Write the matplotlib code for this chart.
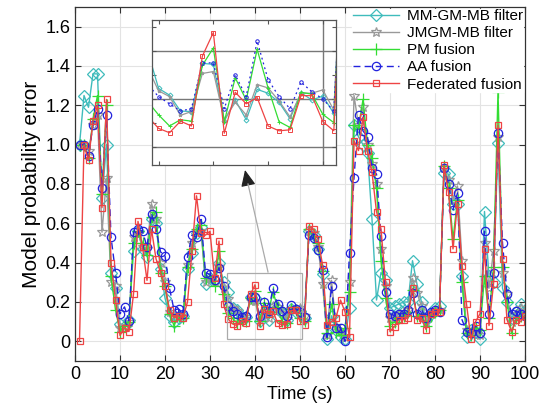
import matplotlib
matplotlib.use("Agg")
import matplotlib.pyplot as plt
import matplotlib.patches as mpatches
import numpy as np

plt.rcParams['font.family'] = ['Liberation Sans', 'DejaVu Sans']

time = list(range(1, 101))

mm_gm_mb = [1.0, 1.25, 1.19, 1.36, 1.36, 0.73, 1.0, 0.35, 0.27, 0.09,
            0.08, 0.11, 0.46, 0.56, 0.47, 0.43, 0.62, 0.60, 0.37, 0.22,
            0.13, 0.10, 0.12, 0.13, 0.37, 0.45, 0.55, 0.58, 0.29, 0.32,
            0.31, 0.40, 0.30, 0.25, 0.172, 0.158, 0.125, 0.124, 0.224, 0.222,
            0.104, 0.148, 0.107, 0.170, 0.162, 0.143, 0.109, 0.163, 0.148, 0.156,
            0.120, 0.56, 0.54, 0.47, 0.34, 0.01, 0.13, 0.06, 0.02, 0.01,
            0.17, 1.10, 1.04, 1.0, 0.96, 0.62, 0.21, 0.35, 0.31, 0.17,
            0.18, 0.19, 0.20, 0.20, 0.41, 0.29, 0.20, 0.11, 0.14, 0.17,
            0.18, 0.855, 0.85, 0.70, 0.70, 0.33, 0.02, 0.06, 0.05, 0.01,
            0.66, 0.33, 0.30, 1.01, 0.27, 0.20, 0.12, 0.15, 0.19, 0.16]

jmgm_mb = [1.0, 1.0, 0.97, 1.10, 1.15, 0.555, 0.83, 0.30, 0.28, 0.07,
           0.08, 0.10, 0.53, 0.55, 0.48, 0.47, 0.70, 0.62, 0.40, 0.30,
           0.15, 0.12, 0.14, 0.13, 0.39, 0.50, 0.56, 0.56, 0.30, 0.32,
           0.30, 0.38, 0.27, 0.215, 0.167, 0.155, 0.116, 0.124, 0.203, 0.207,
           0.107, 0.143, 0.117, 0.180, 0.173, 0.146, 0.113, 0.162, 0.162, 0.169,
           0.127, 0.56, 0.55, 0.48, 0.29, 0.03, 0.31, 0.08, 0.05, 0.02,
           0.30, 1.25, 1.10, 1.19, 1.0, 0.90, 0.80, 0.47, 0.28, 0.12,
           0.13, 0.14, 0.15, 0.16, 0.32, 0.245, 0.18, 0.10, 0.14, 0.16,
           0.16, 0.88, 0.82, 0.72, 0.79, 0.41, 0.06, 0.05, 0.06, 0.03,
           0.50, 0.27, 0.46, 1.04, 0.35, 0.24, 0.10, 0.14, 0.17, 0.15]

pm_fusion = [1.0, 1.0, 0.93, 1.13, 1.25, 0.75, 1.20, 0.33, 0.16, 0.05,
             0.08, 0.10, 0.50, 0.56, 0.50, 0.44, 0.63, 0.66, 0.35, 0.28,
             0.14, 0.08, 0.13, 0.12, 0.38, 0.47, 0.57, 0.59, 0.32, 0.33,
             0.28, 0.46, 0.24, 0.145, 0.117, 0.094, 0.107, 0.104, 0.220, 0.256,
             0.103, 0.194, 0.148, 0.253, 0.173, 0.103, 0.091, 0.164, 0.160, 0.118,
             0.101, 0.57, 0.53, 0.50, 0.36, 0.04, 0.19, 0.05, 0.03, 0.07,
             0.25, 1.10, 1.08, 1.23, 1.0, 0.93, 0.78, 0.41, 0.22, 0.08,
             0.10, 0.12, 0.13, 0.15, 0.26, 0.13, 0.14, 0.08, 0.13, 0.15,
             0.16, 0.89, 0.78, 0.52, 0.72, 0.30, 0.04, 0.03, 0.07, 0.06,
             0.33, 0.12, 0.38, 1.27, 0.38, 0.20, 0.04, 0.12, 0.13, 0.12]

aa_fusion = [1.0, 1.0, 0.94, 1.10, 1.18, 0.78, 1.15, 0.53, 0.35, 0.14,
             0.175, 0.105, 0.555, 0.57, 0.56, 0.48, 0.65, 0.57, 0.455, 0.435,
             0.27, 0.16, 0.165, 0.14, 0.43, 0.54, 0.53, 0.62, 0.35, 0.34,
             0.31, 0.375, 0.28, 0.18, 0.155, 0.14, 0.125, 0.13, 0.225, 0.225,
             0.13, 0.20, 0.155, 0.27, 0.19, 0.155, 0.13, 0.185, 0.165, 0.15,
             0.125, 0.54, 0.525, 0.465, 0.365, 0.02, 0.28, 0.07, 0.07, 0.0,
             0.45, 0.83, 1.15, 1.07, 1.04, 0.88, 0.85, 0.535, 0.25, 0.14,
             0.13, 0.14, 0.14, 0.16, 0.245, 0.14, 0.16, 0.12, 0.15, 0.16,
             0.15, 0.88, 0.80, 0.67, 0.755, 0.11, 0.05, 0.04, 0.08, 0.04,
             0.56, 0.14, 0.35, 1.06, 0.50, 0.24, 0.14, 0.155, 0.14, 0.13]

federated = [0.0, 1.0, 0.92, 1.12, 1.20, 0.68, 1.23, 0.40, 0.21, 0.03,
             0.07, 0.05, 0.24, 0.61, 0.48, 0.31, 0.57, 0.42, 0.35, 0.28,
             0.16, 0.12, 0.13, 0.12, 0.20, 0.46, 0.74, 0.55, 0.54, 0.56,
             0.32, 0.51, 0.19, 0.114, 0.089, 0.080, 0.104, 0.094, 0.239, 0.288,
             0.079, 0.164, 0.140, 0.153, 0.094, 0.084, 0.086, 0.157, 0.157, 0.103,
             0.084, 0.585, 0.57, 0.52, 0.39, 0.085, 0.10, 0.12, 0.21, 0.15,
             0.02, 1.02, 0.97, 1.14, 0.97, 0.86, 0.66, 0.57, 0.30, 0.05,
             0.075, 0.11, 0.11, 0.12, 0.27, 0.11, 0.12, 0.06, 0.14, 0.15,
             0.15, 0.895, 0.757, 0.47, 0.70, 0.385, 0.19, 0.01, 0.10, 0.14,
             0.47, 0.08, 0.29, 1.10, 0.42, 0.11, 0.05, 0.11, 0.10, 0.13]

labels = ["MM-GM-MB filter", "JMGM-MB filter", "PM fusion", "AA fusion", "Federated fusion"]
series = [mm_gm_mb, jmgm_mb, pm_fusion, aa_fusion, federated]
colors = ["#3fbcbc", "#999999", "#33dd33", "#2222dd", "#ee4444"]
markers = ["D", "*", "+", "o", "s"]
msizes = [6.5, 7, 8, 6, 5]
styles = ["-", "-", "-", (0, (5, 3)), "-"]

x_ticks = list(range(0, 101, 10))
y_ticks = [0, 0.2, 0.4, 0.6, 0.8, 1.0, 1.2, 1.4, 1.6]
y_tick_labels = ["0", "0.2", "0.4", "0.6", "0.8", "1.0", "1.2", "1.4", "1.6"]

W, H = 550, 412
fig = plt.figure(figsize=(5.5, 4.12), dpi=100)
ax = fig.add_axes([75 / W, (H - 361) / H, 450 / W, 354 / H])

for s, lab, c, m, ms, ls in zip(series, labels, colors, markers, msizes, styles):
    ax.plot(time, s, color=c, marker=m, markersize=ms, markerfacecolor='none',
            markeredgecolor=c, markeredgewidth=0.9, linewidth=1.0, linestyle=ls, label=lab)

ax.set_xlim(0, 100)
ax.set_ylim(-0.1, 1.7)
ax.set_xticks(x_ticks)
ax.set_yticks(y_ticks)
ax.set_yticklabels(y_tick_labels)
ax.tick_params(direction='in', top=True, right=True, length=4, labelsize=13, color='#333333')
ax.grid(True, color='#e3e3e3', linewidth=0.8)
ax.set_axisbelow(True)
for sp in ax.spines.values():
    sp.set_color('#333333')
    sp.set_linewidth(0.9)
ax.set_xlabel("Time (s)", fontsize=13, labelpad=2)
ax.set_ylabel("Model probability error", fontsize=15, labelpad=3)

leg = ax.legend(loc='upper right', fontsize=11, frameon=True, fancybox=False,
                edgecolor='white', facecolor='white', framealpha=1.0,
                borderaxespad=0.1, labelspacing=0.2, handlelength=3.0,
                handletextpad=0.5, borderpad=0.05)

# zoom rectangle in main axes
rect = mpatches.Rectangle((33.8, 0.013), 16.6, 0.336, fill=False,
                          edgecolor='#aaaaaa', linewidth=0.9, zorder=5)
ax.add_patch(rect)

# inset
axin = fig.add_axes([152 / W, (H - 165) / H, 184 / W, 145 / H])
for s, c, m, ls in zip(series, colors, markers, styles):
    lsi = (0, (1.5, 2.5)) if ls != "-" else "-"
    axin.plot(time, s, color=c, marker=m, markersize=2.5, markerfacecolor='none',
              markeredgecolor=c, markeredgewidth=0.7, linewidth=0.9, linestyle=lsi)
axin.set_xlim(34.4, 51.2)
axin.set_ylim(0.013, 0.314)
axin.set_xticks([35, 40, 45, 50])
axin.set_yticks([0.05, 0.10, 0.15, 0.20, 0.25, 0.30])
axin.set_xticklabels([])
axin.set_yticklabels([])
axin.tick_params(direction='in', top=True, right=True, length=3, color='#555555')
for yv in [0.05, 0.15, 0.25]:
    axin.axhline(yv, color='#777777', linewidth=1.0, zorder=0)
axin.axvline(50, color='#777777', linewidth=1.0, zorder=0)
for sp in axin.spines.values():
    sp.set_color('#555555')
    sp.set_linewidth(0.9)

# arrow from rectangle to inset
def figfrac(px, py):
    return (px / W, (H - py) / H)

start = figfrac(268, 272)
mid = figfrac(248, 184)
tip = figfrac(245, 170)
fig.add_artist(plt.Line2D([start[0], mid[0]], [start[1], mid[1]],
                          transform=fig.transFigure, color='#aaaaaa', linewidth=0.9))
ax.annotate('', xy=tip, xycoords='figure fraction', xytext=mid, textcoords='figure fraction',
            arrowprops=dict(arrowstyle='-|>,head_length=1.0,head_width=0.45',
                            color='#222222', lw=0.8, shrinkA=0, shrinkB=0))

fig.savefig("out.png", dpi=100)
